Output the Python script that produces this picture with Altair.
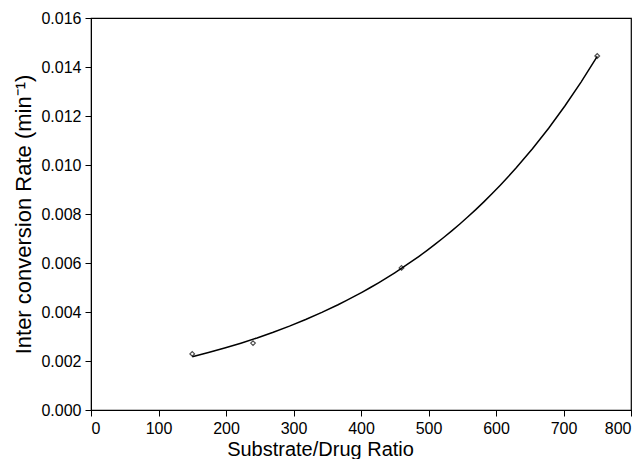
import altair as alt
import pandas as pd

ratio = [150, 240, 460, 750]
rate = [0.00229, 0.00273, 0.0058, 0.01445]
x_ticks = [0, 100, 200, 300, 400, 500, 600, 700, 800]
y_ticks = [0.0, 0.002, 0.004, 0.006, 0.008, 0.010, 0.012, 0.014, 0.016]

df = pd.DataFrame({"ratio": ratio, "rate": rate})

FONT = "Liberation Sans"

x = alt.X("ratio:Q", scale=alt.Scale(domain=[0, 800], nice=False),
          axis=alt.Axis(title="Substrate/Drug Ratio", values=x_ticks,
                        format="d", grid=False, titleFontSize=20, titleX=229,
                        titleAlign="center", titleBaseline="alphabetic", titleY=45))
y = alt.Y("rate:Q", scale=alt.Scale(domain=[0, 0.016], nice=False),
          axis=alt.Axis(title="Inter conversion Rate (min⁻¹)",
                        values=y_ticks, format=".3f", grid=False,
                        titleFontSize=22, titlePadding=5))

base = alt.Chart(df)

trend = base.transform_regression("ratio", "rate", method="exp").mark_line(
    color="black", strokeWidth=1.5
).encode(x=x, y=y)

pts = base.mark_point(shape="diamond", size=22, color="black", filled=False,
                      strokeWidth=1.2).encode(x=x, y=y)

chart = (trend + pts).properties(
    width=540, height=392,
    autosize=alt.AutoSizeParams(type="none"),
    padding={"left": 83, "top": 10, "right": 2, "bottom": 49},
).configure_view(stroke="black", strokeWidth=1.2).configure_axis(
    domainColor="black", tickColor="black", tickSize=6, labelColor="black",
    titleColor="black", labelFont=FONT, titleFont=FONT,
    labelFontSize=16, titleFontWeight="normal", labelPadding=4,
)

chart.save("out.html", embed_options={"renderer": "svg", "actions": False})
